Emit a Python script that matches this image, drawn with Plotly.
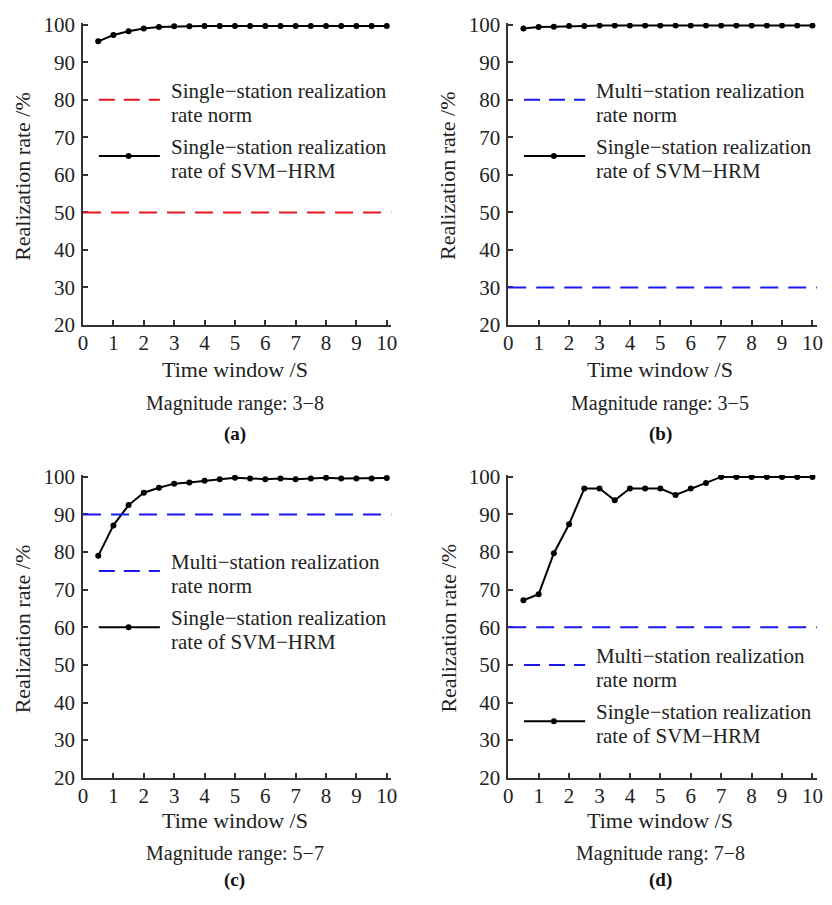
import plotly.graph_objects as go

# ---------------- data ----------------
time_window = [0.5, 1.0, 1.5, 2.0, 2.5, 3.0, 3.5, 4.0, 4.5, 5.0,
               5.5, 6.0, 6.5, 7.0, 7.5, 8.0, 8.5, 9.0, 9.5, 10.0]

rate_a = [95.6, 97.3, 98.3, 99.0, 99.4, 99.6, 99.6, 99.7, 99.7, 99.7,
          99.7, 99.7, 99.7, 99.7, 99.7, 99.7, 99.7, 99.7, 99.7, 99.7]
rate_b = [99.0, 99.4, 99.5, 99.7, 99.7, 99.8, 99.8, 99.8, 99.8, 99.8,
          99.8, 99.8, 99.8, 99.8, 99.8, 99.8, 99.8, 99.8, 99.8, 99.8]
rate_c = [79.0, 87.1, 92.5, 95.8, 97.1, 98.2, 98.5, 99.0, 99.4, 99.8,
          99.6, 99.4, 99.6, 99.4, 99.6, 99.8, 99.6, 99.6, 99.6, 99.7]
rate_d = [67.2, 68.8, 79.7, 87.4, 96.9, 96.9, 93.8, 96.9, 96.9, 96.9,
          95.2, 96.9, 98.4, 100.0, 100.0, 100.0, 100.0, 100.0, 100.0, 100.0]

norm_values = [50, 30, 90, 60]
norm_names = ["Single\u2212station realization", "Multi\u2212station realization",
              "Multi\u2212station realization", "Multi\u2212station realization"]
series_name = ["Single\u2212station realization", "rate of SVM\u2212HRM"]
magnitude_labels = ["Magnitude range: 3\u22128", "Magnitude range: 3\u22125",
                    "Magnitude range: 5\u22127", "Magnitude rang: 7\u22128"]
panel_letters = ["(a)", "(b)", "(c)", "(d)"]
x_ticks = [0, 1, 2, 3, 4, 5, 6, 7, 8, 9, 10]
y_ticks = [20, 30, 40, 50, 60, 70, 80, 90, 100]

rates = [rate_a, rate_b, rate_c, rate_d]

# ---------------- layout config ----------------
# the page body keeps its 8px margin; figure sized so the page is 832x905
OFF = 8
W, H = 832 - 2 * OFF, 905 - 2 * OFF
FONT = "Liberation Serif"
norm_colors = ["#e3171f", "#1a1af0", "#1a1af0", "#1a1af0"]
legend_dash_y = [80, 80, 75, 50]
legend_line_y = [65, 65, 60, 35]


def px_x(p):
    return (p - OFF) / W


def px_y(p):
    return 1 - (p - OFF) / H


# page-pixel geometry of panels: (x_left, x_right, y_bottom, y_top)
panels_px = [
    (79, 391.5, 322.7, 13.1),
    (510, 823, 322.7, 13.1),
    (79, 391.5, 787, 476.6),
    (510, 823, 787, 476.6),
]
title_rows = [
    dict(xt=368, mag=403, let=435, ytitle=170),
    dict(xt=831, mag=865, let=892, ytitle=634),
]

fig = go.Figure()
annotations = []
shapes = []

for i in range(4):
    xl, xr, yb, yt = panels_px[i]
    ax = "" if i == 0 else str(i + 1)
    xa = "x" + ax
    ya = "y" + ax
    fig.add_trace(go.Scatter(
        x=time_window, y=rates[i], mode="lines+markers",
        line=dict(color="black", width=2),
        marker=dict(color="black", size=6),
        xaxis=xa, yaxis=ya, showlegend=False, hoverinfo="x+y"))

    axis_common = dict(showgrid=False, zeroline=False, showline=True,
                       linecolor="#333333", linewidth=1.5,
                       ticks="inside", ticklen=5, tickwidth=1.5, tickcolor="#333333",
                       tickfont=dict(family=FONT, size=21, color="#222222"))
    fig.layout["xaxis" + ax] = dict(
        domain=[px_x(xl), px_x(xr)], range=[0, 10.15], tickvals=x_ticks,
        anchor=ya, ticklabelstandoff=-2, **axis_common)
    fig.layout["yaxis" + ax] = dict(
        domain=[px_y(yb), px_y(yt)], range=[20, 100.5], tickvals=y_ticks,
        anchor=xa, ticklabelstandoff=2, **axis_common)

    # norm line
    shapes.append(dict(type="line", xref=xa + " domain", yref=ya, x0=0, x1=1,
                       y0=norm_values[i], y1=norm_values[i],
                       line=dict(color=norm_colors[i], width=2, dash="18px,10px")))
    # legend samples
    shapes.append(dict(type="line", xref=xa, yref=ya, x0=0.52, x1=2.53,
                       y0=legend_dash_y[i], y1=legend_dash_y[i],
                       line=dict(color=norm_colors[i], width=2, dash="16px,9px")))
    shapes.append(dict(type="line", xref=xa, yref=ya, x0=0.52, x1=2.53,
                       y0=legend_line_y[i], y1=legend_line_y[i],
                       line=dict(color="black", width=2)))
    shapes.append(dict(type="circle", xref=xa, yref=ya, xsizemode="pixel", ysizemode="pixel",
                       xanchor=1.5, yanchor=legend_line_y[i], x0=-3, x1=3, y0=-3, y1=3,
                       fillcolor="black", line=dict(color="black", width=0)))
    lf = dict(family=FONT, size=21, color="#222222")
    for yv, lines in ((legend_dash_y[i], [norm_names[i], "rate norm"]),
                      (legend_line_y[i], series_name)):
        annotations.append(dict(xref=xa, yref=ya, x=2.82, y=yv, text=lines[0],
                                showarrow=False, xanchor="left", yanchor="middle",
                                yshift=9, font=lf))
        annotations.append(dict(xref=xa, yref=ya, x=2.82, y=yv, text=lines[1],
                                showarrow=False, xanchor="left", yanchor="middle",
                                yshift=-15, font=lf))

    tf = dict(family=FONT, size=22, color="#222222")
    row = title_rows[i // 2]
    cx = px_x((xl + (xl + 10 * (xr - xl) / 10.15)) / 2)
    annotations.append(dict(xref="paper", yref="paper", x=cx, y=px_y(row["xt"]),
                            text="Time window /S", showarrow=False,
                            xanchor="center", yanchor="middle", font=tf))
    annotations.append(dict(xref="paper", yref="paper", x=cx, y=px_y(row["mag"]),
                            text=magnitude_labels[i], showarrow=False,
                            xanchor="center", yanchor="middle",
                            font=dict(family=FONT, size=20, color="#222222")))
    annotations.append(dict(xref="paper", yref="paper", x=cx, y=px_y(row["let"]),
                            text="<b>" + panel_letters[i] + "</b>", showarrow=False,
                            xanchor="center", yanchor="middle",
                            font=dict(family=FONT, size=19, color="#111111")))
    annotations.append(dict(xref="paper", yref="paper", x=px_x(xl - 61),
                            y=px_y(row["ytitle"]),
                            text="Realization rate /%", showarrow=False, textangle=-90,
                            xanchor="center", yanchor="middle", font=tf))

fig.update_layout(width=W, height=H, margin=dict(l=0, r=0, t=0, b=0),
                  paper_bgcolor="white", plot_bgcolor="white",
                  shapes=shapes, annotations=annotations, showlegend=False)

fig.write_html("out.html", config={"displayModeBar": False})
